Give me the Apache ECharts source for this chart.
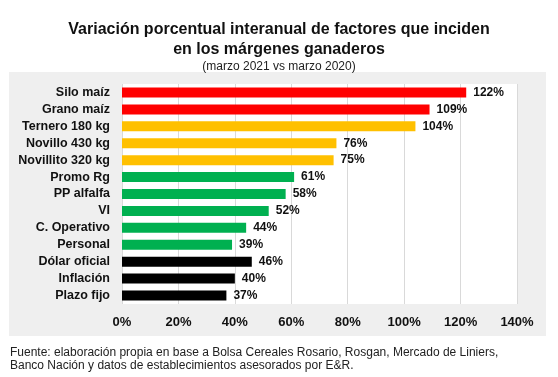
<!DOCTYPE html>
<html>
<head>
<meta charset="utf-8">
<script src="https://cdn.jsdelivr.net/npm/echarts@6/dist/echarts.min.js"></script>
<style>
  html, body { margin: 0; padding: 0; background: #ffffff; }
  #chart { width: 558px; height: 377px; }
</style>
</head>
<body>
<div id="chart"></div>
<script>
// categorías (de arriba hacia abajo)
const categories = ['Silo maíz', 'Grano maíz', 'Ternero 180 kg', 'Novillo 430 kg', 'Novillito 320 kg',
  'Promo Rg', 'PP alfalfa', 'VI', 'C. Operativo', 'Personal', 'Dólar oficial', 'Inflación', 'Plazo fijo']
// variación porcentual interanual
const values = [122, 109, 104, 76, 75, 61, 58, 52, 44, 39, 46, 40, 37]
// grupo de cada factor
const groups = ['maiz', 'maiz', 'hacienda', 'hacienda', 'hacienda',
  'costos', 'costos', 'costos', 'costos', 'costos', 'macro', 'macro', 'macro']
// ticks del eje x
const xTicks = [0, 20, 40, 60, 80, 100, 120, 140]

const groupColor = {
  maiz: '#ff0000',
  hacienda: '#ffc000',
  costos: '#00b050',
  macro: '#000000'
}

const font = '"Liberation Sans", Arial, sans-serif'
const chart = echarts.init(document.getElementById('chart'))

const option = {
  backgroundColor: '#ffffff',
  animation: false,
  title: {
    text: 'Variación porcentual interanual de factores que inciden\nen los márgenes ganaderos',
    subtext: '(marzo 2021 vs marzo 2020)',
    left: 'center',
    top: 15,
    itemGap: 0,
    textStyle: { fontFamily: font, fontSize: 16, fontWeight: 'bold', color: '#111', lineHeight: 20 },
    subtextStyle: { fontFamily: font, fontSize: 12, color: '#222', lineHeight: 13 }
  },
  graphic: [
    // panel gris de fondo
    { type: 'rect', z: -10, shape: { x: 9, y: 72, width: 537, height: 264 }, style: { fill: '#efefef' } },
    {
      type: 'text', left: 10, top: 346,
      style: {
        text: 'Fuente: elaboración propia en base a Bolsa Cereales Rosario, Rosgan, Mercado de Liniers,\nBanco Nación y datos de establecimientos asesorados por E&R.',
        font: '12px ' + font, fill: '#222', lineHeight: 13
      }
    }
  ],
  grid: {
    left: 122,
    right: 41,
    top: 84,
    bottom: 73,
    show: true,
    backgroundColor: '#ffffff',
    borderWidth: 0
  },
  xAxis: {
    type: 'value',
    min: xTicks[0],
    max: xTicks[xTicks.length - 1],
    interval: 20,
    axisLine: { show: false },
    axisTick: { show: false },
    splitLine: { show: true, lineStyle: { color: '#d9d9d9', width: 1 } },
    axisLabel: {
      fontFamily: font, fontSize: 13, fontWeight: 'bold', color: '#111', margin: 12,
      formatter: v => v + '%'
    }
  },
  yAxis: {
    type: 'category',
    inverse: true,
    data: categories,
    axisLine: { show: false },
    axisTick: { show: false },
    axisLabel: { fontFamily: font, fontSize: 12.5, fontWeight: 'bold', color: '#111', margin: 12 }
  },
  series: [{
    type: 'bar',
    barWidth: 10,
    data: values.map((v, i) => ({ value: v, itemStyle: { color: groupColor[groups[i]] } })),
    label: {
      show: true,
      position: 'right',
      distance: 7,
      fontFamily: font,
      fontSize: 12,
      fontWeight: 'bold',
      color: '#111',
      formatter: p => p.value + '%'
    }
  }]
}

chart.setOption(option)
</script>
</body>
</html>
